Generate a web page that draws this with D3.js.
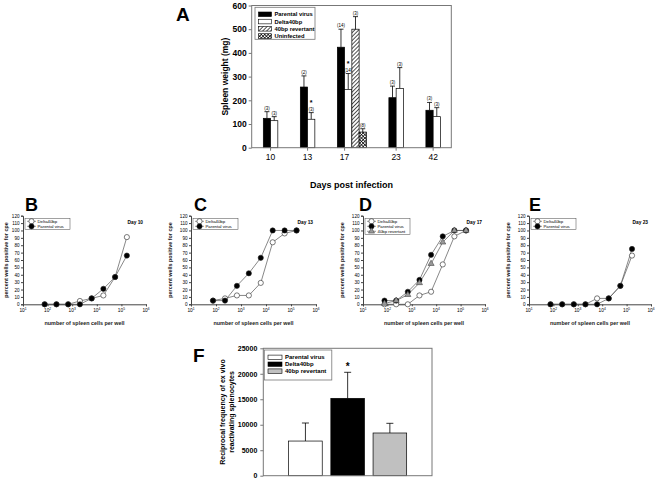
<!DOCTYPE html>
<html><head><meta charset="utf-8">
<script src="https://cdn.jsdelivr.net/npm/d3@7"></script>
<style>body{margin:0;background:#fff}svg{display:block;font-family:"Liberation Sans",Arial,sans-serif}</style>
</head><body><svg id="c" width="661" height="481"></svg>
<script>
// ---------- Panel A data ----------
const daysA = ["10", "13", "17", "23", "42"];
const parentalA = [124, 256, 424, 211, 158];
const parentalAErr = [28, 47, 76, 49, 33];
const parentalAN = ["(3)", "(2)", "(14)", "(3)", "(3)"];
const delta40A = [114, 120, 246, 250, 131];
const delta40AErr = [17, 28, 67, 88, 38];
const delta40AN = ["(3)", "(3)", "(14)", "(3)", "(3)"];
const delta40AStar = [false, true, true, false, false];
const revertantA = [null, null, 500, null, null];
const revertantAErr = [null, null, 53, null, null];
const revertantAN = [null, null, "(3)", null, null];
const uninfectedA = [null, null, 66, null, null];
const uninfectedAErr = [null, null, 14, null, null];
const uninfectedAN = [null, null, "(8)", null, null];
const seriesNamesA = ["Parental virus", "Delta40bp", "40bp revertant", "Uninfected"];
const yTicksA = [0, 100, 200, 300, 400, 500, 600];

// ---------- Panels B-E data ----------
const cellsPerWell = [76, 229, 686, 2058, 6173, 18519, 55556, 166667];
const xTickPowers = [1, 2, 3, 4, 5, 6];
const yTicksCpe = [0, 10, 20, 30, 40, 50, 60, 70, 80, 90, 100, 110, 120];
const deltaB = [0, 0, 0, 4.5, 8, 12, 37, 91];
const parentalB = [0, 0, 0, 0, 8, 21, 37, 66];
const deltaC = [5, 8, 12, 12, 29, 84, 96, 100];
const parentalC = [5, 5, 25, 42, 63, 100, 100, 100];
const deltaD = [0, 0, 0, 12, 17, 54, 92, 100];
const parentalD = [5, 5, 17, 33, 67, 92, 100, 100];
const revertantD = [1, 5, 13, 29, 55, 84, 100, 100];
const deltaE = [0, 0, 0, 0, 8, 8, 25, 66];
const parentalE = [0, 0, 0, 0, 0, 8, 25, 75];
const dayLabels = ["Day 10", "Day 13", "Day 17", "Day 23"];

// ---------- Panel F data ----------
const groupsF = ["Parental virus", "Delta40bp", "40bp revertant"];
const freqF = [6800, 15180, 8380];
const freqErrF = [3540, 5110, 1900];
const starF = [false, true, false];
const yTicksF = [0, 5000, 10000, 15000, 20000, 25000];

const svg = d3.select("#c");
const defs = svg.append("defs");
const hp = defs.append("pattern").attr("id", "hatch").attr("patternUnits", "userSpaceOnUse")
  .attr("width", 2.8).attr("height", 2.8).attr("patternTransform", "rotate(45)");
hp.append("rect").attr("width", 2.8).attr("height", 2.8).attr("fill", "#fff");
hp.append("line").attr("x1", 0.5).attr("y1", 0).attr("x2", 0.5).attr("y2", 2.8).attr("stroke", "#000").attr("stroke-width", 0.7);
const xp = defs.append("pattern").attr("id", "xhatch").attr("patternUnits", "userSpaceOnUse")
  .attr("width", 2.4).attr("height", 2.4).attr("patternTransform", "rotate(45)");
xp.append("rect").attr("width", 2.4).attr("height", 2.4).attr("fill", "#fff");
xp.append("line").attr("x1", 0.4).attr("y1", 0).attr("x2", 0.4).attr("y2", 2.4).attr("stroke", "#000").attr("stroke-width", 0.7);
xp.append("line").attr("x1", 0).attr("y1", 0.4).attr("x2", 2.4).attr("y2", 0.4).attr("stroke", "#000").attr("stroke-width", 0.7);

const FRAME = "#777";

// ================= Panel A =================
(function () {
  const A = { l: 251.7, r: 451.3, t: 5.5, b: 147.7 };
  const g = svg.append("g");
  const series = [
    { name: seriesNamesA[0], v: parentalA, e: parentalAErr, n: parentalAN, fill: "#000" },
    { name: seriesNamesA[1], v: delta40A, e: delta40AErr, n: delta40AN, fill: "#fff", star: delta40AStar },
    { name: seriesNamesA[2], v: revertantA, e: revertantAErr, n: revertantAN, fill: "url(#hatch)" },
    { name: seriesNamesA[3], v: uninfectedA, e: uninfectedAErr, n: uninfectedAN, fill: "url(#xhatch)" }
  ];
  const lead = 1.6, gap = 3.1, trail = 1.5;
  let slot = lead; const bars = []; const tickSlots = [];
  daysA.forEach((d, i) => {
    const present = series.filter(s => s.v[i] != null);
    tickSlots.push(slot + 1);
    present.forEach((s, j) => bars.push({ s, i, x0: slot + j }));
    slot += present.length + gap;
  });
  const total = slot - gap + trail;
  const x = d3.scaleLinear().domain([0, total]).range([A.l, A.r]);
  const y = d3.scaleLinear().domain([0, 600]).range([A.b, A.t]);
  const bw = x(1) - x(0);

  bars.forEach(b => {
    const val = b.s.v[b.i], err = b.s.e[b.i];
    const cx = x(b.x0 + 0.5);
    g.append("line").attr("x1", cx).attr("x2", cx).attr("y1", y(val)).attr("y2", y(val + err)).attr("stroke", "#000").attr("stroke-width", 0.8);
    g.append("line").attr("x1", cx - 2.5).attr("x2", cx + 2.5).attr("y1", y(val + err)).attr("y2", y(val + err)).attr("stroke", "#000").attr("stroke-width", 0.8);
    g.append("rect").attr("x", x(b.x0)).attr("y", y(val)).attr("width", bw).attr("height", y(0) - y(val))
      .attr("fill", b.s.fill).attr("stroke", "#000").attr("stroke-width", 0.7);
    g.append("text").attr("x", cx).attr("y", y(val + err) - 2).attr("text-anchor", "middle")
      .attr("font-size", 4.5).text(b.s.n[b.i]);
    if (b.s.star && b.s.star[b.i]) {
      g.append("text").attr("x", cx).attr("y", y(val + err) - 7.6).attr("text-anchor", "middle")
        .attr("font-size", 7).attr("font-weight", "bold").text("*");
    }
  });
  g.append("rect").attr("x", A.l).attr("y", A.t).attr("width", A.r - A.l).attr("height", A.b - A.t)
    .attr("fill", "none").attr("stroke", FRAME).attr("stroke-width", 1);
  const ya = g.append("g").attr("transform", `translate(${A.l},0)`)
    .call(d3.axisLeft(y).tickValues(yTicksA).tickSize(3).tickPadding(2).tickFormat(d3.format("d")));
  ya.select(".domain").remove();
  ya.selectAll("line").attr("stroke", FRAME);
  ya.selectAll("text").attr("font-size", 8.5).attr("font-weight", "bold").attr("font-family", "Liberation Sans, Arial, sans-serif");
  daysA.forEach((d, i) => {
    const tx = x(tickSlots[i]);
    g.append("line").attr("x1", tx).attr("x2", tx).attr("y1", A.b).attr("y2", A.b + 3).attr("stroke", FRAME);
    g.append("text").attr("x", tx).attr("y", 159.5).attr("text-anchor", "middle").attr("font-size", 8.5).text(d);
  });
  g.append("text").attr("x", (A.l + A.r) / 2).attr("y", 188).attr("text-anchor", "middle")
    .attr("font-size", 9).attr("font-weight", "bold").text("Days post infection");
  g.append("text").attr("transform", `translate(228,${(A.t + A.b) / 2}) rotate(-90)`).attr("text-anchor", "middle")
    .attr("font-size", 8.5).attr("font-weight", "bold").text("Spleen weight (mg)");
  g.append("text").attr("x", 176).attr("y", 21).attr("font-size", 19).attr("font-weight", "bold").text("A");
  const lg = g.append("g");
  lg.append("rect").attr("x", 255).attr("y", 7.3).attr("width", 60).attr("height", 32).attr("fill", "#fff").attr("stroke", FRAME).attr("stroke-width", 0.8);
  series.forEach((s, i) => {
    const cy = 14.3 + i * 7.25;
    lg.append("rect").attr("x", 258.5).attr("y", cy - 2.3).attr("width", 13).attr("height", 4.6)
      .attr("fill", s.fill).attr("stroke", "#000").attr("stroke-width", 0.6);
    lg.append("text").attr("x", 274.5).attr("y", cy + 2).attr("font-size", 5.8).attr("font-weight", "bold").text(s.name);
  });
})();

// ================= Panels B-E =================
const panels = [
  { letter: "B", lx: 25, l: 23, r: 146, day: dayLabels[0],
    series: [{ name: "Delta40bp", v: deltaB, m: "open" }, { name: "Parental virus", v: parentalB, m: "filled" }] },
  { letter: "C", lx: 194, l: 191, r: 316, day: dayLabels[1],
    series: [{ name: "Delta40bp", v: deltaC, m: "open" }, { name: "Parental virus", v: parentalC, m: "filled" }] },
  { letter: "D", lx: 359, l: 363, r: 485, day: dayLabels[2],
    series: [{ name: "Delta40bp", v: deltaD, m: "open" }, { name: "Parental virus", v: parentalD, m: "filled" }, { name: "40bp revertant", v: revertantD, m: "tri" }] },
  { letter: "E", lx: 529, l: 529, r: 651, day: dayLabels[3],
    series: [{ name: "Delta40bp", v: deltaE, m: "open" }, { name: "Parental virus", v: parentalE, m: "filled" }] }
];
const PT = 215.7, PB = 304.3;
function marker(sel, m, cx, cy) {
  if (m === "tri") {
    sel.append("path").attr("d", d3.symbol(d3.symbolTriangle, 16)()).attr("transform", `translate(${cx},${cy})`)
      .attr("fill", "#999").attr("stroke", "#444").attr("stroke-width", 0.6);
  } else {
    sel.append("circle").attr("cx", cx).attr("cy", cy).attr("r", 2.6)
      .attr("fill", m === "open" ? "#fff" : "#000").attr("stroke", "#222").attr("stroke-width", 0.6);
  }
}
panels.forEach(p => {
  const g = svg.append("g");
  const x = d3.scaleLog().domain([10, 1e6]).range([p.l, p.r]);
  const y = d3.scaleLinear().domain([0, 120]).range([PB, PT]);
  const ya = g.append("g").attr("transform", `translate(${p.l},0)`)
    .call(d3.axisLeft(y).tickValues(yTicksCpe).tickSize(2).tickPadding(1.5));
  ya.select(".domain").attr("stroke", "#444");
  ya.selectAll("line").attr("stroke", "#444");
  ya.selectAll("text").attr("font-size", 4.6).attr("font-family", "Liberation Sans, Arial, sans-serif");
  const xa = g.append("g").attr("transform", `translate(0,${PB})`)
    .call(d3.axisBottom(x).tickValues(xTickPowers.map(k => Math.pow(10, k))).tickSize(2).tickPadding(2).tickFormat(""));
  xa.select(".domain").attr("stroke", "#444");
  xa.selectAll("line").attr("stroke", "#444");
  xTickPowers.forEach(k => {
    const t = g.append("text").attr("x", x(Math.pow(10, k))).attr("y", PB + 8).attr("text-anchor", "middle").attr("font-size", 4.8);
    t.append("tspan").text("10");
    t.append("tspan").attr("dy", -2).attr("font-size", 3.3).text(k);
  });
  const line = d3.line().x((d, i) => x(cellsPerWell[i])).y(d => y(d));
  p.series.forEach(s => {
    g.append("path").attr("d", line(s.v)).attr("fill", "none").attr("stroke", "#555").attr("stroke-width", 0.7);
  });
  p.series.forEach(s => {
    s.v.forEach((d, i) => marker(g, s.m, x(cellsPerWell[i]), y(d)));
  });
  g.append("text").attr("x", (p.l + p.r) / 2).attr("y", 325).attr("text-anchor", "middle")
    .attr("font-size", 5.4).attr("font-weight", "bold").attr("fill", "#222").text("number of spleen cells per well");
  const ylx = Math.max(p.l - 19, 7.5);
  g.append("text").attr("transform", `translate(${ylx},${(PT + PB) / 2}) rotate(-90)`).attr("text-anchor", "middle")
    .attr("font-size", 5.4).attr("font-weight", "bold").attr("fill", "#222").text("percent wells positive for cpe");
  g.append("text").attr("x", p.lx).attr("y", 210.5).attr("font-size", 18).attr("font-weight", "bold").text(p.letter);
  g.append("text").attr("x", p.r - 3).attr("y", 223.8).attr("text-anchor", "end").attr("font-size", 4.8).attr("font-weight", "bold").text(p.day);
  const n = p.series.length;
  const bt = 218.3;
  g.append("rect").attr("x", p.l + 2).attr("y", bt).attr("width", 45).attr("height", 1 + 5 * n)
    .attr("fill", "#fff").attr("stroke", "#444").attr("stroke-width", 0.5);
  p.series.forEach((s, i) => {
    const cy = bt + 3 + 5 * i;
    g.append("line").attr("x1", p.l + 4).attr("x2", p.l + 13).attr("y1", cy).attr("y2", cy).attr("stroke", "#555").attr("stroke-width", 0.6);
    marker(g, s.m, p.l + 8.5, cy);
    g.append("text").attr("x", p.l + 14.5).attr("y", cy + 1.5).attr("font-size", 4.3).text(s.name);
  });
});

// ================= Panel F =================
(function () {
  const F = { l: 263.3, r: 432, t: 348.3, b: 475.7 };
  const g = svg.append("g");
  const fills = ["#fff", "#000", "#c0c0c0"];
  const x = d3.scaleBand().domain(groupsF).range([F.l, F.r]).paddingInner(0.204).paddingOuter(0.6);
  const y = d3.scaleLinear().domain([0, 25000]).range([F.b, F.t]);
  groupsF.forEach((gname, i) => {
    const cx = x(gname) + x.bandwidth() / 2;
    const top = y(freqF[i] + freqErrF[i]);
    g.append("line").attr("x1", cx).attr("x2", cx).attr("y1", y(freqF[i])).attr("y2", top).attr("stroke", "#000").attr("stroke-width", 0.8);
    g.append("line").attr("x1", cx - 3.5).attr("x2", cx + 3.5).attr("y1", top).attr("y2", top).attr("stroke", "#000").attr("stroke-width", 0.8);
    g.append("rect").attr("x", x(gname)).attr("y", y(freqF[i])).attr("width", x.bandwidth()).attr("height", y(0) - y(freqF[i]))
      .attr("fill", fills[i]).attr("stroke", "#000").attr("stroke-width", 0.7);
    if (starF[i]) g.append("text").attr("x", cx).attr("y", top - 2.5).attr("text-anchor", "middle").attr("font-size", 10).attr("font-weight", "bold").text("*");
  });
  g.append("rect").attr("x", F.l).attr("y", F.t).attr("width", F.r - F.l).attr("height", F.b - F.t)
    .attr("fill", "none").attr("stroke", FRAME).attr("stroke-width", 1);
  const ya = g.append("g").attr("transform", `translate(${F.l},0)`)
    .call(d3.axisLeft(y).tickValues(yTicksF).tickSize(3).tickPadding(3).tickFormat(d3.format("d")));
  ya.select(".domain").remove();
  ya.selectAll("line").attr("stroke", FRAME);
  ya.selectAll("text").attr("font-size", 7).attr("font-weight", "bold").attr("font-family", "Liberation Sans, Arial, sans-serif");
  const cyl = (F.t + F.b) / 2;
  g.append("text").attr("transform", `translate(224.5,${cyl}) rotate(-90)`).attr("text-anchor", "middle")
    .attr("font-size", 7).attr("font-weight", "bold").text("Reciprocal frequency of ex vivo");
  g.append("text").attr("transform", `translate(234,${cyl}) rotate(-90)`).attr("text-anchor", "middle")
    .attr("font-size", 7).attr("font-weight", "bold").text("reactivating splenocytes");
  g.append("text").attr("x", 193).attr("y", 362).attr("font-size", 19).attr("font-weight", "bold").text("F");
  g.append("rect").attr("x", 264.3).attr("y", 350).attr("width", 67.5).attr("height", 30).attr("fill", "#fff").attr("stroke", FRAME).attr("stroke-width", 0.8);
  groupsF.forEach((gname, i) => {
    const cy = 357.3 + i * 6.9;
    g.append("rect").attr("x", 268).attr("y", cy - 2.2).attr("width", 14).attr("height", 4.4).attr("fill", fills[i]).attr("stroke", "#000").attr("stroke-width", 0.6);
    g.append("text").attr("x", 285).attr("y", cy + 2).attr("font-size", 6).attr("font-weight", "bold").text(gname);
  });
})();
</script></body></html>
